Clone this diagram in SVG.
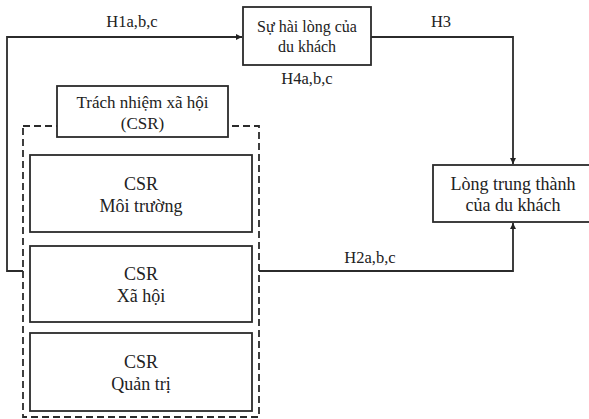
<svg xmlns="http://www.w3.org/2000/svg" width="589" height="419" viewBox="0 0 589 419">
<defs>
<style>
.box{fill:#fff;stroke:#2b2b2b;stroke-width:1.8}
.dash{fill:none;stroke:#2b2b2b;stroke-width:1.8;stroke-dasharray:7,4}
.ln{fill:none;stroke:#2b2b2b;stroke-width:1.8}
text{font-family:"Liberation Serif","Times New Roman",serif;font-size:17px;fill:#222;text-anchor:middle}
.lbl{font-size:16.5px}
.big{font-size:18px}
.sm{font-size:16px}
</style>
<marker id="ah" viewBox="0 0 6 6" refX="6" refY="3" markerWidth="3.5" markerHeight="3.5" orient="auto" markerUnits="strokeWidth">
<path d="M0,0 L6,3 L0,6 z" fill="#222"/>
</marker>
</defs>
<rect width="589" height="419" fill="#fff"/>
<g id="connectors">
<path class="ln" d="M23,271 H7 V37 H242" marker-end="url(#ah)"/>
<path class="ln" d="M371,37 H513 V164" marker-end="url(#ah)"/>
<path class="ln" d="M259,271 H513 V223" marker-end="url(#ah)"/>
<text class="lbl" x="132" y="27">H1a,b,c</text>
<text class="lbl" x="441" y="27">H3</text>
<text class="lbl" x="307" y="84">H4a,b,c</text>
<text class="lbl" x="370" y="263">H2a,b,c</text>
</g>
<g id="csr-group">
<rect class="dash" x="23" y="126" width="236" height="291"/>
</g>
<g id="satisfaction">
<rect class="box" x="243" y="7" width="128" height="58"/>
<text class="sm" x="307" y="32">Sự hài lòng của</text>
<text class="sm" x="307" y="52">du khách</text>
</g>
<g id="csr-title">
<rect class="box" x="57" y="86" width="171" height="51"/>
<text x="142.5" y="108">Trách nhiệm xã hội</text>
<text x="142.5" y="129">(CSR)</text>
</g>
<g id="csr-env">
<rect class="box" x="30" y="155" width="222" height="77"/>
<text class="big" x="141" y="190">CSR</text>
<text class="big" x="141" y="212">Môi trường</text>
</g>
<g id="csr-soc">
<rect class="box" x="30" y="246" width="222" height="76"/>
<text class="big" x="141" y="280">CSR</text>
<text class="big" x="141" y="302">Xã hội</text>
</g>
<g id="csr-gov">
<rect class="box" x="30" y="333" width="222" height="78"/>
<text class="big" x="141" y="368">CSR</text>
<text class="big" x="141" y="390">Quản trị</text>
</g>
<g id="loyalty">
<rect class="box" x="433" y="165" width="162" height="57"/>
<text class="big" x="513" y="190">Lòng trung thành</text>
<text class="big" x="513" y="211">của du khách</text>
</g>
</svg>
